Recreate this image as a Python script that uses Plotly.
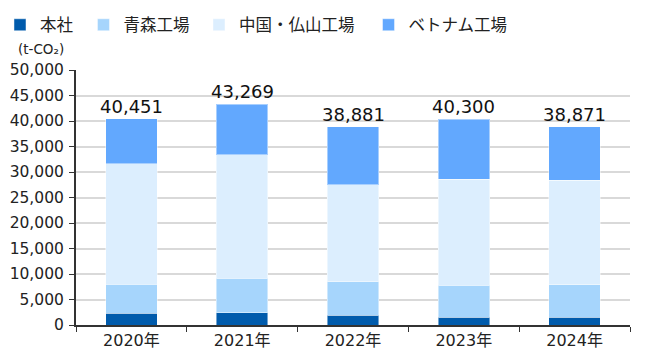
import plotly.graph_objects as go

years = ["2020年", "2021年", "2022年", "2023年", "2024年"]
honsha = [2290, 2420, 1900, 1500, 1500]
aomori = [5750, 6730, 6600, 6340, 6400]
china = [23530, 24250, 19000, 20760, 20500]
vietnam = [8881, 9869, 11381, 11700, 10471]
series_names = ["本社", "青森工場", "中国・仏山工場", "ベトナム工場"]
colors = ["#005BAC", "#A6D5FC", "#DCEEFE", "#62A8FE"]
totals = [a + b + c + d for a, b, c, d in zip(honsha, aomori, china, vietnam)]

CJK = "Noto Sans CJK JP"
NUM = "DejaVu Sans, Noto Sans CJK JP"

# legend placement (paper x of each separate legend box)
legend_ids = ["legend", "legend2", "legend3", "legend4"]
legend_x = [-0.1372, 0.0135, 0.2220, 0.5280]

fig = go.Figure()
for name, vals, col, lid in zip(series_names, [honsha, aomori, china, vietnam], colors, legend_ids):
    fig.add_trace(go.Bar(
        x=years, y=vals, name=name, legend=lid,
        marker=dict(color=col, line=dict(color="rgba(255,255,255,0.45)", width=1)),
        hoverinfo="skip",
    ))

for x, t in zip(years, totals):
    fig.add_annotation(x=x, y=t, text=f"{t:,}", showarrow=False,
                       yanchor="bottom", yshift=0,
                       font=dict(size=18, color="#111111", family=NUM))

fig.add_annotation(xref="paper", yref="paper", x=-0.1083, y=1.082,
                   xanchor="left", yanchor="middle", showarrow=False,
                   text="(t-CO₂)", font=dict(size=13.5, color="#222222", family=NUM))

legend_common = dict(orientation="h", xanchor="left", yanchor="top", y=1.245,
                     font=dict(size=16.5, family=CJK, color="#222222"),
                     itemwidth=30, bgcolor="rgba(0,0,0,0)")
layout_legends = {}
for lid, lx in zip(legend_ids, legend_x):
    layout_legends[lid] = dict(legend_common, x=lx)

fig.update_layout(
    width=652, height=360,
    margin=dict(l=76, r=22, t=70, b=35, autoexpand=False),
    barmode="stack", bargap=0.535,
    plot_bgcolor="white", paper_bgcolor="white",
    font=dict(family=NUM, size=16, color="#222222"),
    showlegend=True,
    **layout_legends,
)
fig.update_yaxes(range=[0, 50000], dtick=5000, tickformat=",",
                 showgrid=True, gridcolor="#d9d9d9", gridwidth=1.5,
                 showline=True, linecolor="#333333", linewidth=2,
                 ticks="outside", ticklen=5, tickcolor="#333333",
                 ticklabelstandoff=2,
                 zeroline=False, tickfont=dict(size=15.5, family=NUM))
fig.update_xaxes(showline=True, linecolor="#333333", linewidth=2,
                 ticks="outside", ticklen=5, tickcolor="#333333",
                 tickson="boundaries", tickfont=dict(size=16, family=NUM))

fig.write_html("out.html", config={"displayModeBar": False},
               post_script="document.body.style.margin='0';")
